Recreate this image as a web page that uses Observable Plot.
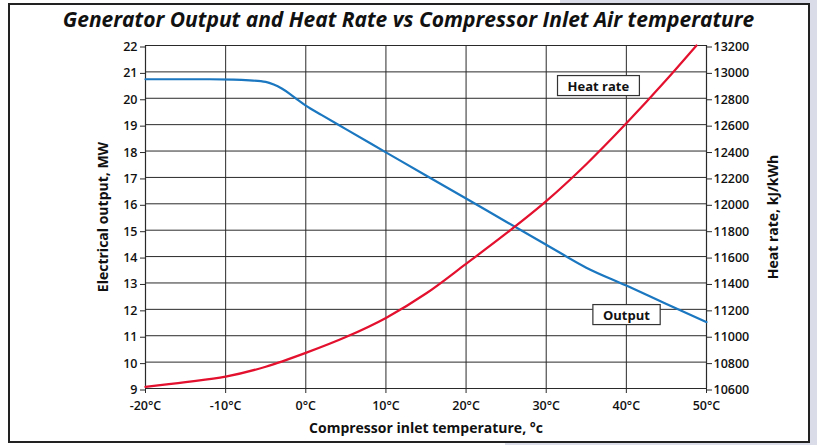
<!DOCTYPE html>
<html><head><meta charset="utf-8">
<script src="https://cdn.jsdelivr.net/npm/d3@7"></script>
<script src="https://cdn.jsdelivr.net/npm/@observablehq/plot@0.6"></script>
<style>
html,body{margin:0;padding:0;background:#fff;}
body{width:817px;height:445px;overflow:hidden;position:relative;font-family:"Open Sans",sans-serif;color:#111;}
#bg{position:absolute;left:0;top:0;display:block;}
#title{position:absolute;left:0;width:817px;top:5px;text-align:center;font-style:italic;font-weight:700;font-size:21px;line-height:28px;font-family:"Open Sans",sans-serif;color:#111;white-space:nowrap;}
#chart{position:absolute;left:0;top:36px;}
</style>
</head><body>
<svg id="bg" width="817" height="445" viewBox="0 0 817 445" xmlns="http://www.w3.org/2000/svg">
  <rect x="0" y="0" width="817" height="445" fill="#fff"/>
  <rect x="810" y="0" width="7" height="445" fill="#dadde8"/>
  <rect x="505" y="443" width="312" height="2" fill="#dadde8"/>
  <rect x="560" y="0" width="257" height="3" fill="#dadde8"/>
  <path d="M9,4H809V442H9Z" fill="none" stroke="#222" stroke-width="2"/>
</svg>
<div id="title">Generator Output and Heat Rate vs Compressor Inlet Air temperature</div>
<div id="chart"></div>
<script>
// X axis ticks (°C)
const tempTicks = [-20, -10, 0, 10, 20, 30, 40, 50];
const tempTickLabels = ["-20°C", "-10°C", "0°C", "10°C", "20°C", "30°C", "40°C", "50°C"];
// Left axis ticks (MW)
const mwTicks = [9, 10, 11, 12, 13, 14, 15, 16, 17, 18, 19, 20, 21, 22];
// Right axis tick labels (kJ/kWh), aligned with left ticks
const hrTickLabels = ["10600", "10800", "11000", "11200", "11400", "11600", "11800", "12000", "12200", "12400", "12600", "12800", "13000", "13200"];
const hrMin = 10600, hrMax = 13200;

// Generator output series
const outputTemp = [-20, -15, -12, -9, -7, -5, -4, -3, -2, -1, 0, 2, 5, 10, 15, 20, 25, 30, 35, 40, 45, 50];
const outputMW   = [20.72, 20.72, 20.72, 20.71, 20.68, 20.62, 20.52, 20.37, 20.17, 19.94, 19.72, 19.36, 18.83, 17.95, 17.07, 16.2, 15.32, 14.45, 13.58, 12.9, 12.2, 11.52];

// Heat rate series
const hrTemp = [-20, -15, -10, -5, 0, 5, 10, 15, 20, 25, 30, 35, 40, 45, 48.75];
const hrVal  = [10612, 10648, 10690, 10765, 10870, 10990, 11135, 11320, 11545, 11775, 12020, 12300, 12610, 12940, 13200];

// Annotation labels
const labelText = ["Heat rate", "Output"];
const labelTemp = [36.5, 40.0];
const labelMW = [20.45, 11.77];

const outData = outputTemp.map((t, i) => ({t, v: outputMW[i]}));
const hrData = hrTemp.map((t, i) => ({t, v: 9 + (hrVal[i] - hrMin) / (hrMax - hrMin) * 13}));
const labels = labelText.map((s, i) => ({s, t: labelTemp[i], v: labelMW[i]}));

const lineColor = "#2a2a2a";
const plot = Plot.plot({
  width: 817,
  height: 409,
  marginTop: 9,
  marginBottom: 57,
  marginLeft: 145,
  marginRight: 111,
  style: {fontFamily: "'Open Sans', sans-serif", fontSize: "12.5px", fontWeight: 600, color: "#111", background: "transparent", overflow: "visible"},
  x: {domain: [-20, 50]},
  y: {domain: [9, 22]},
  marks: [
    Plot.gridY(mwTicks, {stroke: lineColor, strokeOpacity: 1, strokeWidth: 1}),
    Plot.gridX(tempTicks, {stroke: lineColor, strokeOpacity: 1, strokeWidth: 1}),
    Plot.ruleX([-20, 50], {stroke: lineColor, strokeWidth: 1.2}),
    Plot.axisY(mwTicks, {anchor: "left", tickSize: 5, tickPadding: 3, stroke: lineColor, dy: 1.5,
      label: "Electrical output, MW", labelAnchor: "center", labelArrow: "none", labelOffset: 47}),
    Plot.axisY(mwTicks, {anchor: "right", tickSize: 5, tickPadding: 2, stroke: lineColor, dy: 1.5,
      tickFormat: d => hrTickLabels[mwTicks.indexOf(d)],
      label: "Heat rate, kJ/kWh", labelAnchor: "center", labelArrow: "none", labelOffset: 71}),
    Plot.axisX(tempTicks, {anchor: "bottom", tickSize: 5, tickPadding: 8, stroke: lineColor,
      tickFormat: d => tempTickLabels[tempTicks.indexOf(d)],
      label: "Compressor inlet temperature, °c", labelAnchor: "center", labelArrow: "none", labelOffset: 44}),
    Plot.line(outData, {x: "t", y: "v", stroke: "#1a77c0", strokeWidth: 2.2, curve: "monotone-x"}),
    Plot.line(hrData, {x: "t", y: "v", stroke: "#e3102e", strokeWidth: 2.2, curve: "monotone-x"}),
    Plot.text(labels, {x: "t", y: "v", text: "s", fontSize: 13, fontWeight: 700, fill: "#111"})
  ]
});
document.getElementById("chart").appendChild(plot);

// axis label fonts
d3.select(plot).selectAll('[aria-label$="axis label"]')
  .attr("font-size", 14).attr("font-weight", 700);

// add boxes behind annotation labels (same transform as the text)
d3.select(plot).selectAll('g[aria-label="text"] text').each(function() {
  const bb = this.getBBox();
  d3.select(this.parentNode).insert("rect", () => this)
    .attr("transform", this.getAttribute("transform"))
    .attr("x", bb.x - 10).attr("y", bb.y - 1)
    .attr("width", bb.width + 20).attr("height", bb.height + 2)
    .attr("fill", "#fff").attr("stroke", "#333").attr("stroke-width", 1.2);
});
</script>
</body></html>
